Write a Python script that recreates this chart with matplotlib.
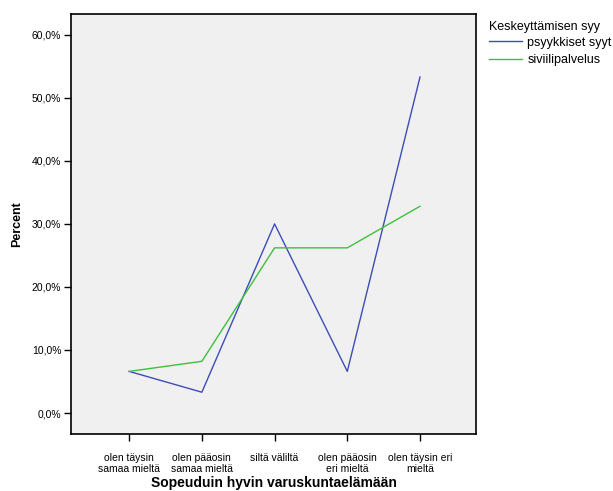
import matplotlib
matplotlib.use("Agg")
import matplotlib.pyplot as plt
from matplotlib.ticker import FuncFormatter

plt.rcParams['font.family'] = ['Liberation Sans', 'DejaVu Sans']

# data
categories = ["olen täysin\nsamaa mieltä", "olen pääosin\nsamaa mieltä", "siltä väliltä",
              "olen pääosin\neri mieltä", "olen täysin eri\nmieltä"]
psyykkiset = [6.6, 3.3, 30.0, 6.6, 53.3]
siviili = [6.6, 8.2, 26.2, 26.2, 32.8]
series_names = ["psyykkiset syyt", "siviilipalvelus"]

fig = plt.figure(figsize=(6.13, 4.91), dpi=100)
ax = fig.add_axes([0.1158, 0.1161, 0.6607, 0.8554])
ax.set_facecolor("#f0f0f0")

x = range(len(categories))
ax.plot(x, psyykkiset, color="#3d4db7", lw=1.0, label=series_names[0])
ax.plot(x, siviili, color="#3cc23c", lw=1.0, label=series_names[1])

ax.set_xlim(-0.8, 4.77)
ax.set_ylim(-3.33, 63.3)
ax.set_yticks([0, 10, 20, 30, 40, 50, 60])
ax.yaxis.set_major_formatter(FuncFormatter(lambda v, p: ("%.1f%%" % v).replace(".", ",")))
ax.set_xticks(list(x))
ax.set_xticklabels(categories, fontsize=7.5, linespacing=1.1)
ax.tick_params(axis="y", labelsize=7.5, length=5, width=1, direction="out", pad=2)
ax.tick_params(axis="x", length=5, width=1, direction="out", pad=9)
for s in ax.spines.values():
    s.set_linewidth(1.2)

ax.set_xlabel("Sopeuduin hyvin varuskuntaelämään", fontsize=10, fontweight="bold", labelpad=1)
ax.set_ylabel("Percent", fontsize=9, fontweight="bold", labelpad=6)

leg = fig.legend(loc="upper left", bbox_to_anchor=(0.797, 0.958), title="Keskeyttämisen syy",
                 fontsize=9, title_fontsize=9, frameon=False, handlelength=2.7,
                 borderaxespad=0, borderpad=0, labelspacing=0.45, handletextpad=0.4)
leg._legend_box.align = "left"
leg._legend_box.sep = 3

fig.savefig("out.png", dpi=100)
